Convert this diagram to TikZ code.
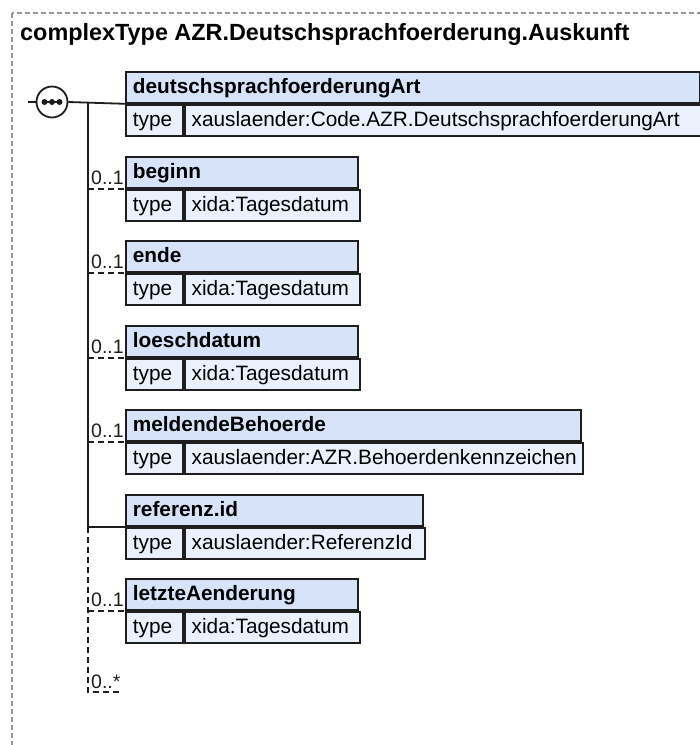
\documentclass[tikz,border=0pt]{standalone}
\usepackage{fontspec}
\setmainfont{Liberation Sans}
\definecolor{hdrfill}{RGB}{214,227,248}
\definecolor{rowfill}{RGB}{234,241,252}
\definecolor{edge}{RGB}{30,30,30}
\definecolor{framegray}{RGB}{150,150,150}
\tikzset{
  boxbase/.style={draw=edge, line width=1.8pt, inner xsep=7pt, inner ysep=0pt,
    minimum height=31pt, text height=16pt, text depth=4pt, align=left},
  hdr/.style={boxbase, fill=hdrfill, font=\fontsize{20.8}{24}\selectfont\bfseries},
  tcell/.style={boxbase, fill=rowfill, font=\fontsize{20.8}{24}\selectfont, text width=43pt},
  vcell/.style={boxbase, fill=rowfill, font=\fontsize{20.8}{24}\selectfont},
  conn/.style={draw=edge, line width=1.8pt},
  optconn/.style={conn, dash pattern=on 6pt off 4pt},
  card/.style={font=\fontsize{19.5}{22}\selectfont, anchor=base west, inner sep=0pt, text=edge},
  frame/.style={draw=framegray, line width=1.2pt, dash pattern=on 5pt off 3pt},
}
\newcommand{\elembox}[5]{%
  \pgfmathsetmacro{\hdrtw}{#3-14}%
  \pgfmathsetmacro{\valtw}{#3-57-14}%
  \node[hdr, text width=\hdrtw pt, anchor=north west] (#1) at (125,#2) {#4};
  \node[tcell, anchor=north west] (#1t) at (#1.south west) {type};
  \node[vcell, text width=\valtw pt, anchor=north west] (#1v) at (#1t.north east) {#5};
}
\begin{document}
\begin{tikzpicture}[x=1pt, y=-1pt]
\useasboundingbox (0,0) rectangle (700,745);
% outer frame (extends past the page)
\draw[frame] (12,13) rectangle (740,790);
\node[anchor=base west, inner sep=0pt, font=\fontsize{23.4}{28}\selectfont\bfseries] (title) at (20,40)
  {complexType AZR.Deutschsprachfoerderung.Auskunft};

% element boxes
\elembox{b1}{71}{574}{deutschsprachfoerderungArt}{xauslaender:Code.AZR.DeutschsprachfoerderungArt}
\elembox{b2}{156}{232}{beginn}{xida:Tagesdatum}
\elembox{b3}{240}{232}{ende}{xida:Tagesdatum}
\elembox{b4}{325}{232}{loeschdatum}{xida:Tagesdatum}
\elembox{b5}{409}{455}{meldendeBehoerde}{xauslaender:AZR.Behoerdenkennzeichen}
\elembox{b6}{494}{297}{referenz.id}{xauslaender:ReferenzId}
\elembox{b7}{578}{232}{letzteAenderung}{xida:Tagesdatum}

% sequence compositor
\coordinate (stub) at (28,102);
\node[circle, draw=edge, line width=1.8pt, fill=white, minimum size=31pt, inner sep=0pt] (seq) at (52,102) {};
\draw[conn] (stub) -- (seq.west);
\draw[edge, line width=1.8pt] ([xshift=-10pt]seq.center) -- ([xshift=10pt]seq.center);
\foreach \dx in {-7.5,0,7.5} \fill[edge] ([xshift=\dx pt]seq.center) circle (3pt);

\coordinate (vtop) at (88,102);
\coordinate (vmid) at (vtop |- b6.south west);
\coordinate (vbot) at (88,692);
\coordinate (vend) at (122,692);

\draw[conn] (seq.east) -- (b1.south west);
\draw[conn] (vtop) -- (vmid);
\draw[conn] (vmid) -- (b6.south west);
\draw[optconn] (vmid) -- (vbot) -- (vend);

\foreach \b in {b2,b3,b4,b5,b7} {
  \coordinate (\b j) at (vtop |- \b.south west);
  \draw[optconn] (\b j) -- (\b.south west);
  \node[card] (\b card) at ([shift={(3pt,4pt)}]\b j) {0..1};
}
\node[card] (anycard) at ([shift={(3pt,4pt)}]vbot) {0..*};
\end{tikzpicture}
\end{document}
